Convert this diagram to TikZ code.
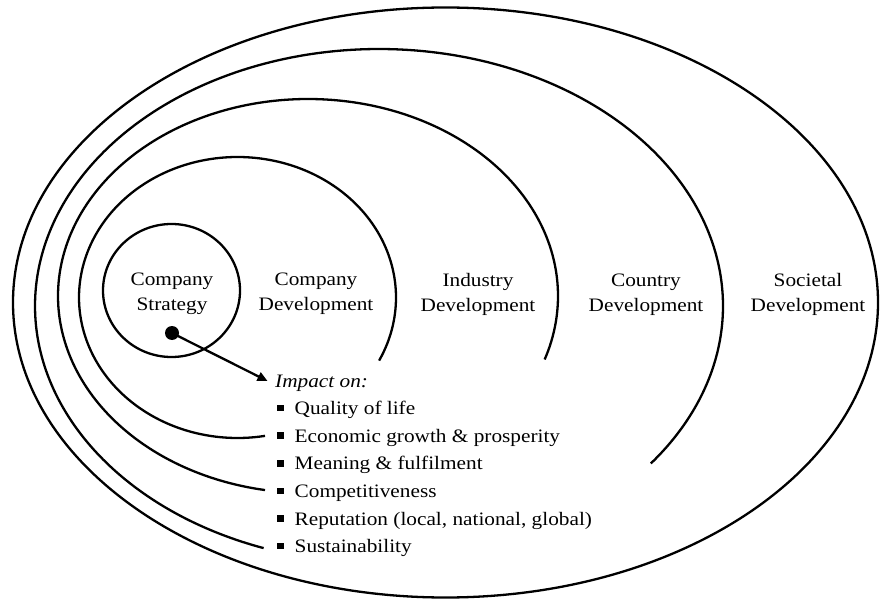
\documentclass[tikz,border=0pt]{standalone}
\usepackage{fontspec}
\setmainfont{Liberation Serif}[FakeStretch=1.12]
\usetikzlibrary{arrows.meta}
\newcommand{\sqbullet}{\rule[3.25pt]{6.5pt}{6.5pt}\hspace{11pt}}
\tikzset{
  ring/.style={line width=2.3pt, draw=black},
  label2/.style={align=center, anchor=base, inner sep=0pt, font=\fontsize{19}{25}\selectfont},
  listbox/.style={align=left, anchor=base west, inner sep=0pt, font=\fontsize{19}{27.6}\selectfont},
  dotnode/.style={circle, fill=black, inner sep=0pt, minimum size=14pt},
  impactarrow/.style={line width=2.3pt, -{Triangle[length=10pt,width=9pt]}}
}
\begin{document}
\begin{tikzpicture}[x=1pt,y=-1pt]
\useasboundingbox (0,0) rectangle (880,601);
\fill[white] (0,0) rectangle (880,601);
% outer ellipse (Societal)
\draw[ring] (445.5,302.5) ellipse [x radius=432.5pt, y radius=295pt];
% Country arc
\draw[ring] plot[domain=-250.4:37.8, samples=240, smooth] ({379+344*cos(\x)}, {306+257*sin(\x)});
% Industry arc
\draw[ring] plot[domain=-260.1:18.8, samples=200, smooth] ({308+250*cos(\x)}, {296+197*sin(\x)});
% Company development arc
\draw[ring] plot[domain=-280:26.7, samples=160, smooth] ({237.5+158.5*cos(\x)}, {297.5+140.5*sin(\x)});
% Company strategy circle
\draw[ring] (171.5,290.5) ellipse [x radius=68.5pt, y radius=66.5pt];

\node[label2] (strategy) at (172,311) {Company\\Strategy};
\node[label2] (compdev) at (316,311) {Company\\Development};
\node[label2] (inddev) at (478,312) {Industry\\Development};
\node[label2] (coudev) at (646,312) {Country\\Development};
\node[label2] (socdev) at (808,312) {Societal\\Development};

\node[listbox] (impact) at (275,552.6) {\textit{Impact on:}\\
\hspace*{2pt}\sqbullet Quality of life\\
\hspace*{2pt}\sqbullet Economic growth \& prosperity\\
\hspace*{2pt}\sqbullet Meaning \& fulfilment\\
\hspace*{2pt}\sqbullet Competitiveness\\
\hspace*{2pt}\sqbullet Reputation (local, national, global)\\
\hspace*{2pt}\sqbullet Sustainability};

\node[dotnode] (dot) at (172,333) {};
\coordinate (tip) at (267.5,381);
\draw[impactarrow] (dot.center) -- (tip);
\end{tikzpicture}
\end{document}
